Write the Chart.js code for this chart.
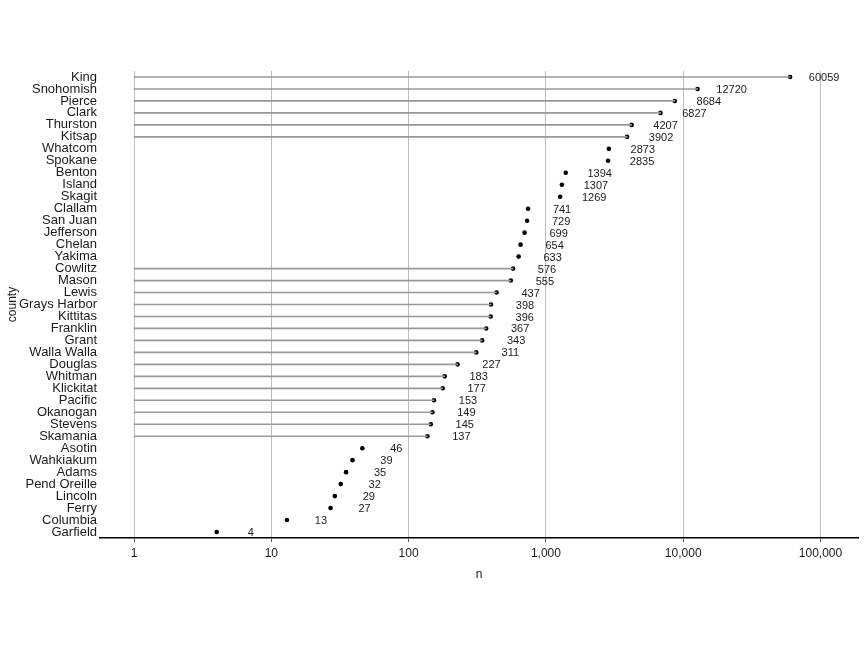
<!DOCTYPE html>
<html>
<head>
<meta charset="utf-8">
<script src="https://cdn.jsdelivr.net/npm/chart.js@4/dist/chart.umd.min.js"></script>
<style>
html,body{margin:0;padding:0;background:#fff;}
#wrap{width:864px;height:648px;}
</style>
</head>
<body>
<div id="wrap"><canvas id="c" width="864" height="648"></canvas></div>
<script>
const counties = ["King","Snohomish","Pierce","Clark","Thurston","Kitsap","Whatcom","Spokane","Benton","Island","Skagit","Clallam","San Juan","Jefferson","Chelan","Yakima","Cowlitz","Mason","Lewis","Grays Harbor","Kittitas","Franklin","Grant","Walla Walla","Douglas","Whitman","Klickitat","Pacific","Okanogan","Stevens","Skamania","Asotin","Wahkiakum","Adams","Pend Oreille","Lincoln","Ferry","Columbia","Garfield"];
const counts = [60059,12720,8684,6827,4207,3902,2873,2835,1394,1307,1269,741,729,699,654,633,576,555,437,398,396,367,343,311,227,183,177,153,149,145,137,46,39,35,32,29,27,13,4];
const segmentCounties = ["King","Snohomish","Pierce","Clark","Thurston","Kitsap","Cowlitz","Mason","Lewis","Grays Harbor","Kittitas","Franklin","Grant","Walla Walla","Douglas","Whitman","Klickitat","Pacific","Okanogan","Stevens","Skamania"];
const xTicks = [1,10,100,1000,10000,100000];
const xMin = 0.565, xMax = 187500;
const segStart = 1;

const segData = counties.map((c,i)=> segmentCounties.includes(c) ? [segStart, counts[i]] : null);

const valueLabels = {
  id:'valueLabels',
  afterDatasetsDraw(chart){
    const meta = chart.getDatasetMeta(1);
    const ctx = chart.ctx;
    ctx.save();
    ctx.font = '11px "Liberation Sans", Arial, sans-serif';
    ctx.fillStyle = '#1a1a1a';
    ctx.textAlign = 'center';
    ctx.textBaseline = 'middle';
    meta.data.forEach((pt,i)=>{
      ctx.fillText(String(counts[i]), pt.x + 34, pt.y + 1);
    });
    ctx.restore();
  }
};

new Chart(document.getElementById('c'), {
  type:'bar',
  data:{
    labels: counties,
    datasets:[
      {
        type:'bar',
        data: segData,
        backgroundColor:'#999999',
        borderWidth:0,
        barThickness:1,
        grouped:false,
        indexAxis:'y'
      },
      {
        type:'line',
        data: counts,
        showLine:false,
        indexAxis:'y',
        pointRadius:2.3,
        pointBackgroundColor:'#000',
        pointBorderColor:'#000',
        pointBorderWidth:0
      }
    ]
  },
  options:{
    indexAxis:'y',
    responsive:false,
    animation:false,
    layout:{padding:{top:71,right:6,bottom:66,left:0}},
    plugins:{legend:{display:false},tooltip:{enabled:false}},
    scales:{
      x:{
        type:'logarithmic',
        min:xMin,max:xMax,
        afterBuildTicks(scale){ scale.ticks = xTicks.map(v=>({value:v})); },
        afterFit(scale){ scale.height = 44; },
        ticks:{
          color:'#1a1a1a',
          font:{family:'"Liberation Sans", Arial, sans-serif',size:12},
          padding:4,
          maxRotation:0,
          callback:(v)=>Number(v).toLocaleString('en-US')
        },
        grid:{color:'#bdbdbd',lineWidth:1,tickLength:4,tickColor:'#555',drawOnChartArea:true},
        border:{display:true,color:'#000',width:1.5},
        title:{display:true,text:'n',color:'#1a1a1a',font:{family:'"Liberation Sans", Arial, sans-serif',size:12},padding:{top:4,bottom:0}}
      },
      y:{
        type:'category',
        offset:true,
        afterFit(scale){ scale.width = 100; },
        ticks:{
          color:'#1a1a1a',
          font:{family:'"Liberation Sans", Arial, sans-serif',size:13},
          padding:3,
          autoSkip:false
        },
        grid:{display:false,drawTicks:false},
        border:{display:false},
        title:{display:true,text:'county',color:'#1a1a1a',font:{family:'"Liberation Sans", Arial, sans-serif',size:12},padding:{top:5,bottom:0}}
      }
    }
  },
  plugins:[valueLabels]
});
</script>
</body>
</html>
